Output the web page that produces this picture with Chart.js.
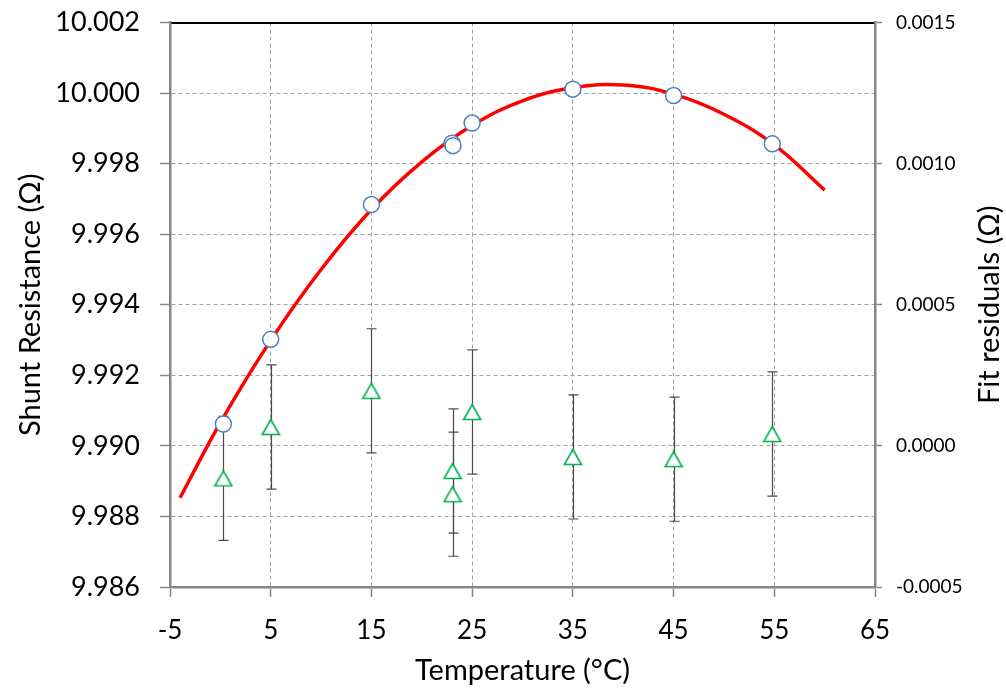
<!DOCTYPE html>
<html>
<head>
<meta charset="utf-8">
<title>Shunt resistance vs temperature</title>
<script src="https://cdn.jsdelivr.net/npm/chart.js@4.4.1/dist/chart.umd.min.js"></script>
<style>
    html, body { margin: 0; padding: 0; background: #fff; }
    #wrap { width: 1006px; height: 688px; }
</style>
</head>
<body>
<div id="wrap"><canvas id="chart" width="1006" height="688"></canvas></div>
<script>
// measured shunt resistance (left axis, ohm)
const measTemp = [0.3, 5, 15, 23.0, 23.1, 25, 35, 45, 54.8];
const measRes = [9.99062, 9.99302, 9.99684, 9.99858, 9.99851, 9.99915, 10.00011, 9.99993, 9.99856];

// fitted curve
const fitTemp = [-4, 0, 5, 10, 15, 20, 25, 30, 35, 40, 45, 50, 55, 60];
const fitRes = [9.98853, 9.99066, 9.99299, 9.99500, 9.99670, 9.99805, 9.99908, 9.99978,
    10.00015, 10.00023, 9.99997, 9.99940, 9.99853, 9.99725];

// fit residuals (right axis, ohm) with their uncertainty
const residTemp = [0.3, 5, 15, 23.05, 23.05, 25, 35, 45, 54.8];
const residVal = [-0.000115, 0.000067, 0.000195, -0.000089, -0.000171, 0.00012, -0.000039, -0.000047, 0.000042];
const residErr = [0.00022, 0.00022, 0.00022, 0.00022, 0.00022, 0.00022, 0.00022, 0.00022, 0.00022];

// axis ticks
const xTicks = [-5, 5, 15, 25, 35, 45, 55, 65];
const yTicks = [9.986, 9.988, 9.990, 9.992, 9.994, 9.996, 9.998, 10.000, 10.002];
const y2Ticks = [-0.0005, 0, 0.0005, 0.0010, 0.0015];

const FONT = 'Lato, "Open Sans", sans-serif';
const AXIS_GREY = '#868686';
const GRID_GREY = '#a0a0a0';

// hollow green triangle, centred on its bounding box like the spreadsheet marker
function triangleMarker() {
    let c = document.createElement('canvas');
    c.width = 20;
    c.height = 18;
    let g = c.getContext('2d');
    g.beginPath();
    g.moveTo(10, 1.5);
    g.lineTo(18.5, 16.5);
    g.lineTo(1.5, 16.5);
    g.closePath();
    g.fillStyle = '#fff';
    g.fill();
    g.strokeStyle = '#00b050';
    g.lineWidth = 1.6;
    g.stroke();
    return c;
}

const toXY = (xs, ys) => xs.map((x, i) => ({x: x, y: ys[i]}));
const fixTicks = (list) => (scale) => { scale.ticks = list.map(v => ({value: v})); };

// pin the plot box: fixed width, no extra room for the end labels
const fixWidth = (w) => (s) => { s.width = w; s.paddingTop = 0; s.paddingBottom = 0; };

// vertical error bars on the residuals
const errorBars = {
    id: 'errorBars',
    beforeDatasetsDraw(chart) {
        let ctx = chart.ctx;
        let x = chart.scales.x, y2 = chart.scales.y2;
        ctx.save();
        ctx.strokeStyle = '#4a4a4a';
        ctx.lineWidth = 1.2;
        residTemp.forEach((t, i) => {
            let px = Math.round(x.getPixelForValue(t)) + 0.5;
            let top = y2.getPixelForValue(residVal[i] + residErr[i]);
            let bot = y2.getPixelForValue(residVal[i] - residErr[i]);
            ctx.beginPath();
            ctx.moveTo(px, top);
            ctx.lineTo(px, bot);
            ctx.moveTo(px - 5, top);
            ctx.lineTo(px + 5, top);
            ctx.moveTo(px - 5, bot);
            ctx.lineTo(px + 5, bot);
            ctx.stroke();
        });
        ctx.restore();
    }
};

// right title reads bottom-to-top, which the built-in right title doesn't do
const rightTitle = {
    id: 'rightTitle',
    afterDraw(chart) {
        let ctx = chart.ctx, area = chart.chartArea;
        ctx.save();
        ctx.translate(990, (area.top + area.bottom) / 2);
        ctx.rotate(-Math.PI / 2);
        ctx.font = '29px ' + FONT;
        ctx.fillStyle = '#000';
        ctx.textAlign = 'center';
        ctx.textBaseline = 'middle';
        ctx.fillText('Fit residuals (\u03a9)', 0, 0);
        ctx.restore();
    }
};

new Chart(document.getElementById('chart'), {
    type: 'scatter',
    data: {
        datasets: [
            {
                label: 'Fit',
                data: toXY(fitTemp, fitRes),
                yAxisID: 'y',
                showLine: true,
                borderColor: '#ff0000',
                borderWidth: 3.5,
                tension: 0.4,
                pointRadius: 0,
                order: 3
            },
            {
                label: 'Residuals',
                data: toXY(residTemp, residVal),
                yAxisID: 'y2',
                pointStyle: triangleMarker(),
                pointRadius: 9,
                order: 2
            },
            {
                label: 'Measured',
                data: toXY(measTemp, measRes),
                yAxisID: 'y',
                pointStyle: 'circle',
                pointRadius: 8,
                pointBorderWidth: 1.5,
                pointBorderColor: '#4f81bd',
                pointBackgroundColor: '#ffffff',
                order: 1
            }
        ]
    },
    options: {
        responsive: false,
        animation: false,
        events: [],
        layout: {padding: {top: 22.5, left: 0, right: 0, bottom: 0}},
        plugins: {legend: {display: false}, tooltip: {enabled: false}},
        scales: {
            x: {
                type: 'linear',
                position: 'bottom',
                min: -5,
                max: 65,
                afterBuildTicks: fixTicks(xTicks),
                afterFit: (s) => { s.height = 101; s.paddingLeft = 0; s.paddingRight = 0; },
                ticks: {font: {family: FONT, size: 26}, color: '#000', padding: 18, maxRotation: 0,
                    callback: (v) => String(v)},
                grid: {color: GRID_GREY, lineWidth: 1, tickLength: 10, tickColor: AXIS_GREY, tickWidth: 1.5},
                border: {color: AXIS_GREY, width: 2.5, dash: [4, 3]},
                title: {display: true, text: 'Temperature (°C)', color: '#000',
                    font: {family: FONT, size: 29}, padding: {top: 0, bottom: 0}}
            },
            xTop: {
                type: 'linear',
                position: 'top',
                min: -5,
                max: 65,
                afterFit: (s) => { s.height = 0; s.paddingLeft = 0; s.paddingRight = 0; },
                ticks: {display: false},
                grid: {display: false, drawTicks: false},
                border: {color: '#000', width: 2}
            },
            y: {
                type: 'linear',
                position: 'left',
                min: 9.986,
                max: 10.002,
                afterBuildTicks: fixTicks(yTicks),
                afterFit: fixWidth(170),
                ticks: {font: {family: FONT, size: 27}, color: '#000', padding: 20,
                    callback: (v) => v.toFixed(3)},
                grid: {color: GRID_GREY, lineWidth: 1, tickLength: 10, tickColor: AXIS_GREY, tickWidth: 1.5},
                border: {color: AXIS_GREY, width: 2.5, dash: [4, 3]},
                title: {display: true, text: 'Shunt Resistance (\u03a9)', color: '#000',
                    font: {family: FONT, size: 29}, padding: {top: 13, bottom: 0}}
            },
            y2: {
                type: 'linear',
                position: 'right',
                min: -0.0005,
                max: 0.0015,
                afterBuildTicks: fixTicks(y2Ticks),
                afterFit: fixWidth(131),
                ticks: {font: {family: FONT, size: 19}, color: '#000', padding: 14,
                    callback: (v) => v.toFixed(4)},
                grid: {drawOnChartArea: false, tickLength: 7, tickColor: AXIS_GREY, tickWidth: 1.5},
                border: {color: AXIS_GREY, width: 2.5}
            }
        }
    },
    plugins: [errorBars, rightTitle]
});
</script>
</body>
</html>
